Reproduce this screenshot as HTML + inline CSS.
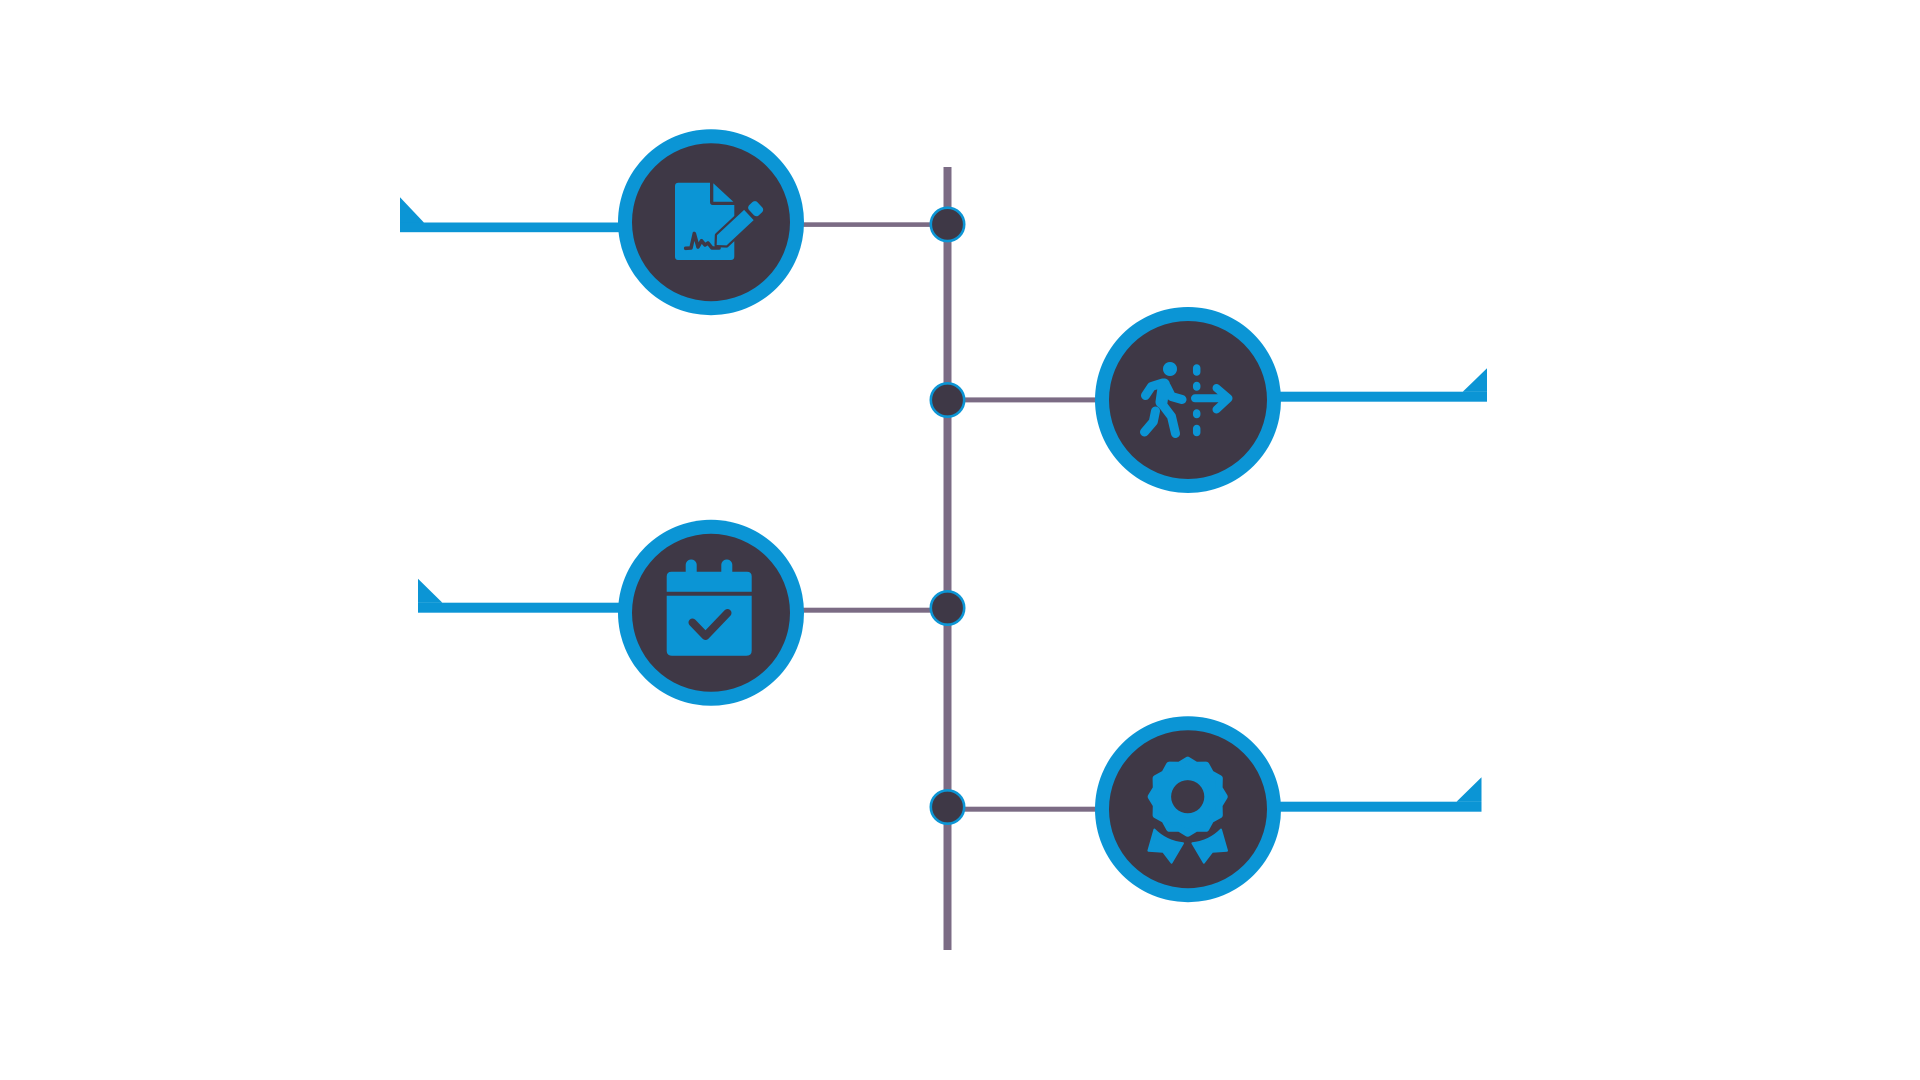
<!DOCTYPE html>
<html>
<head>
<meta charset="utf-8">
<style>
  html, body { margin: 0; padding: 0; background: #ffffff; }
  body { width: 1920px; height: 1080px; overflow: hidden; font-family: "Liberation Sans", sans-serif; }
  svg { display: block; }
</style>
</head>
<body>
<svg width="1920" height="1080" viewBox="0 0 1920 1080" xmlns="http://www.w3.org/2000/svg">
  <rect width="1920" height="1080" fill="#ffffff"/>

  <!-- vertical spine -->
  <rect x="943.5" y="167" width="8" height="783" fill="#7b6b84"/>

  <!-- gray connectors -->
  <rect x="790" y="222.3" width="160" height="4.6" fill="#7b6b84"/>
  <rect x="947" y="397.4" width="160" height="5" fill="#7b6b84"/>
  <rect x="790" y="607.7" width="160" height="5" fill="#7b6b84"/>
  <rect x="947" y="806.7" width="160" height="5" fill="#7b6b84"/>

  <!-- blue lead lines + flags -->
  <rect x="400" y="222.5" width="320" height="9.7" fill="#0b95d5"/>
  <polygon points="400,197.3 424,222.6 400,222.6" fill="#0b95d5"/>

  <rect x="1180" y="391.7" width="307" height="10" fill="#0b95d5"/>
  <polygon points="1487,368.3 1462.7,391.8 1487,391.8" fill="#0b95d5"/>

  <rect x="418" y="602.7" width="300" height="10" fill="#0b95d5"/>
  <polygon points="418,578.7 442.4,602.8 418,602.8" fill="#0b95d5"/>

  <rect x="1180" y="801.7" width="301.5" height="10" fill="#0b95d5"/>
  <polygon points="1481.5,777.3 1456.5,801.8 1481.5,801.8" fill="#0b95d5"/>

  <!-- big circles -->
  <circle cx="711" cy="222.2" r="93" fill="#0b95d5"/>
  <circle cx="711" cy="222.2" r="79" fill="#3e3846"/>

  <circle cx="1188" cy="400" r="93" fill="#0b95d5"/>
  <circle cx="1188" cy="400" r="79" fill="#3e3846"/>

  <circle cx="711" cy="612.8" r="93" fill="#0b95d5"/>
  <circle cx="711" cy="612.8" r="79" fill="#3e3846"/>

  <circle cx="1188" cy="809.2" r="93" fill="#0b95d5"/>
  <circle cx="1188" cy="809.2" r="79" fill="#3e3846"/>

  <!-- nodes -->
  <circle cx="947.5" cy="224.4" r="16.7" fill="#3e3846" stroke="#0b95d5" stroke-width="2.6"/>
  <circle cx="947.5" cy="400" r="16.7" fill="#3e3846" stroke="#0b95d5" stroke-width="2.6"/>
  <circle cx="947.5" cy="608" r="16.7" fill="#3e3846" stroke="#0b95d5" stroke-width="2.6"/>
  <circle cx="947.5" cy="807" r="16.7" fill="#3e3846" stroke="#0b95d5" stroke-width="2.6"/>

  <!-- Icon 1: document with signature + pencil -->
  <g>
    <path d="M675,186 Q675,182.7 678.3,182.7 L710,182.7 L710,202 Q710,205 713,205 L734.3,205 L734.3,256.5 Q734.3,260 731,260 L678.3,260 Q675,260 675,256.7 Z" fill="#0b95d5"/>
    <polygon points="713.3,183.3 733.3,201.7 713.3,201.7" fill="#0b95d5"/>
    <path d="M685.7,248.3 L691,248 L694.3,233.5 L698,247 L701.5,240.7 L705,245 L708,243 L712,248 L719,248" fill="none" stroke="#3e3846" stroke-width="3.6" stroke-linecap="round" stroke-linejoin="round"/>
    <g transform="translate(716.7,245) rotate(-43)">
      <polygon points="0,0 7,-7 44,-7 44,7 7,7" fill="#0b95d5" stroke="#3e3846" stroke-width="4.5" paint-order="stroke" stroke-linejoin="round"/>
      <rect x="47.5" y="-7" width="11.5" height="14" rx="3.5" fill="#0b95d5" stroke="#3e3846" stroke-width="3.5" paint-order="stroke"/>
    </g>
  </g>

  <!-- Icon 2: walking person through dashed line with arrow -->
  <g fill="none" stroke="#0b95d5" stroke-linecap="round" stroke-linejoin="round">
    <circle cx="1170" cy="369" r="7" fill="#0b95d5" stroke="none"/>
    <polyline points="1145.5,395.5 1151.5,386.5 1162.5,383" stroke-width="9"/>
    <polyline points="1164,384.5 1161.5,402" stroke-width="12"/>
    <polyline points="1166.5,386.5 1171.5,396.5 1182,399.5" stroke-width="9"/>
    <polyline points="1162,404 1171.5,416.5 1175.5,433.5" stroke-width="9"/>
    <polyline points="1155.5,411 1153.3,421.7 1144.5,432" stroke-width="9"/>
    <line x1="1196.7" y1="368" x2="1196.7" y2="372" stroke-width="7.5"/>
    <line x1="1196.7" y1="385.5" x2="1196.7" y2="387" stroke-width="7.5"/>
    <line x1="1196.7" y1="413" x2="1196.7" y2="414.5" stroke-width="7.5"/>
    <line x1="1196.7" y1="428.5" x2="1196.7" y2="432.5" stroke-width="7.5"/>
    <line x1="1195" y1="398.3" x2="1227" y2="398.3" stroke-width="8"/>
    <polyline points="1216.5,388 1228.5,398.3 1216.5,409.5" stroke-width="8"/>
  </g>

  <!-- Icon 3: calendar with check -->
  <g>
    <rect x="685.7" y="559.5" width="11" height="20" rx="5.5" fill="#0b95d5"/>
    <rect x="721.3" y="559.5" width="11" height="20" rx="5.5" fill="#0b95d5"/>
    <path d="M666.7,591.7 L666.7,576.5 Q666.7,571.7 671.5,571.7 L747,571.7 Q751.7,571.7 751.7,576.5 L751.7,591.7 Z" fill="#0b95d5"/>
    <path d="M666.7,595.7 L751.7,595.7 L751.7,650.5 Q751.7,655.7 746.5,655.7 L672,655.7 Q666.7,655.7 666.7,650.5 Z" fill="#0b95d5"/>
    <polyline points="692.5,622.5 705.5,636 727.5,613" fill="none" stroke="#3e3846" stroke-width="8" stroke-linecap="round" stroke-linejoin="round"/>
  </g>

  <!-- Icon 4: award rosette -->
  <g fill="#0b95d5">
    <g transform="translate(1187.7,796.7)">
      <polygon stroke="#0b95d5" stroke-width="7" stroke-linejoin="round"
        points="0,-36.5 8.41,-31.39 18.25,-31.61 22.98,-22.98 31.61,-18.25 31.39,-8.41 36.5,0 31.39,8.41 31.61,18.25 22.98,22.98 18.25,31.61 8.41,31.39 0,36.5 -8.41,31.39 -18.25,31.61 -22.98,22.98 -31.61,18.25 -31.39,8.41 -36.5,0 -31.39,-8.41 -31.61,-18.25 -22.98,-22.98 -18.25,-31.61 -8.41,-31.39"/>
      <circle cx="0" cy="0" r="16.6" fill="#3e3846"/>
    </g>
    <path d="M1183,843.2 A46.4,46.4 0 0 1 1154.4,829.6 L1148.4,850.7 L1163.1,851.7 L1171.5,862.7 Z" stroke="#0b95d5" stroke-width="2" stroke-linejoin="round"/>
    <path d="M1192.4,843.2 A46.4,46.4 0 0 0 1221,829.6 L1227,850.7 L1212.3,851.7 L1203.9,862.7 Z" stroke="#0b95d5" stroke-width="2" stroke-linejoin="round"/>
  </g>
</svg>
</body>
</html>
